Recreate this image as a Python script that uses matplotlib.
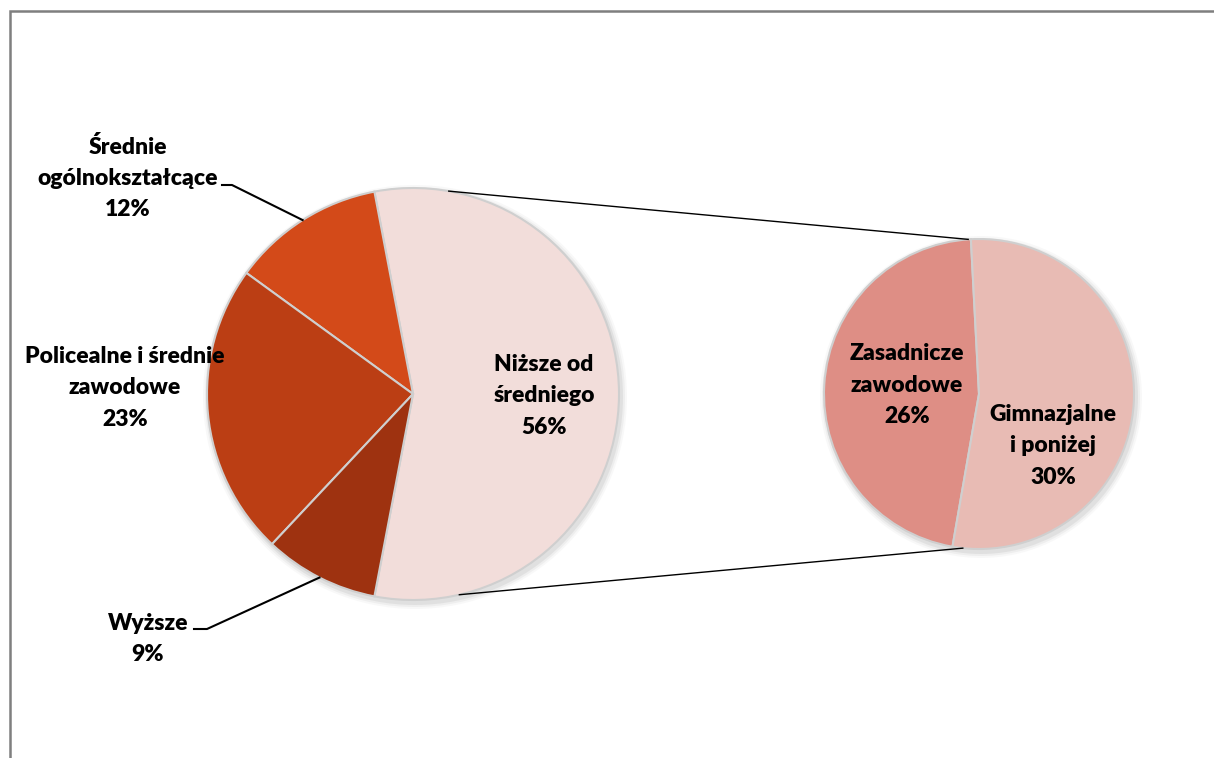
import matplotlib
matplotlib.use('Agg')
import numpy as np
import matplotlib.pyplot as plt
from matplotlib.patches import Circle

# data
main_labels = ['Niższe od\nśredniego', 'Średnie\nogólnokształcące',
               'Policealne i średnie\nzawodowe', 'Wyższe']
main_values = [56, 12, 23, 9]
main_colors = ['#F2DDDA', '#D34A19', '#BB3E14', '#9E3210']

sub_labels = ['Zasadnicze\nzawodowe', 'Gimnazjalne\ni poniżej']
sub_values = [26, 30]
sub_colors = ['#DE8E85', '#E8BBB4']

W, H = 1214, 758
plt.rcParams['font.family'] = ['Lato', 'DejaVu Sans']

fig = plt.figure(figsize=(W / 100, H / 100), dpi=100)
ax = fig.add_axes([0, 0, 1, 1])

def fy(y):
  return H - y

c1 = (413, fy(394)); r1 = 206
c2 = (979, fy(394)); r2 = 155
edge = '#CFCFCF'

# soft shadows
for k, a in [(6, 0.05), (4, 0.08), (2, 0.12)]:
  ax.add_patch(Circle((c1[0] + 2, c1[1] - 3), r1 + k, color='#808080', alpha=a, lw=0, zorder=1))
  ax.add_patch(Circle((c2[0] + 2, c2[1] - 3), r2 + k, color='#808080', alpha=a, lw=0, zorder=1))

start1 = -main_values[0] / 100 * 180
w1, _ = ax.pie(main_values, colors=main_colors, startangle=start1, counterclock=True,
               center=c1, radius=r1, frame=True,
               wedgeprops=dict(edgecolor=edge, linewidth=1.5, zorder=2))
w2, _ = ax.pie(sub_values, colors=sub_colors, startangle=93, counterclock=True,
               center=c2, radius=r2, frame=True,
               wedgeprops=dict(edgecolor=edge, linewidth=1.5, zorder=2))
ax.set_xlim(0, W)
ax.set_ylim(0, H)
ax.set_aspect('equal')
ax.axis('off')

def pt(c, r, ang):
  return c[0] + r * np.cos(np.radians(ang)), c[1] + r * np.sin(np.radians(ang))

# connector lines
for a1, a2 in [(80, 94), (-77, 264)]:
  p1 = pt(c1, r1, a1); p2 = pt(c2, r2, a2)
  ax.plot([p1[0], p2[0]], [p1[1], p2[1]], color='black', lw=1.0, zorder=3)

fs = 16.5
tk = dict(ha='center', va='center', fontsize=fs, fontweight='heavy', linespacing=1.6, zorder=5)

def lab(i, vals, labels):
  return '%s\n%d%%' % (labels[i], vals[i])

ax.text(544, fy(396), lab(0, main_values, main_labels), **tk)
ax.text(128, fy(178), lab(1, main_values, main_labels), **tk)
ax.text(125, fy(388), lab(2, main_values, main_labels), **tk)
ax.text(148, fy(639), lab(3, main_values, main_labels), **tk)
ax.text(907, fy(385), lab(0, sub_values, sub_labels), **tk)
ax.text(1053, fy(446), lab(1, sub_values, sub_labels), **tk)

# leader lines
mid1 = w1[1].theta1 + (w1[1].theta2 - w1[1].theta1) / 2
p = pt(c1, r1, mid1)
ax.plot([222, 232, p[0]], [fy(185), fy(185), p[1]], color='black', lw=1.5, zorder=4)
mid3 = w1[3].theta1 + (w1[3].theta2 - w1[3].theta1) / 2
p = pt(c1, r1, mid3)
ax.plot([194, 207, p[0]], [fy(629), fy(629), p[1]], color='black', lw=1.5, zorder=4)

# chart frame
ax.plot([10, 10, W], [0, fy(11), fy(11)], color='#7F7F7F', lw=1.8, zorder=6, solid_joinstyle='miter')

fig.savefig('out.png', dpi=100)
